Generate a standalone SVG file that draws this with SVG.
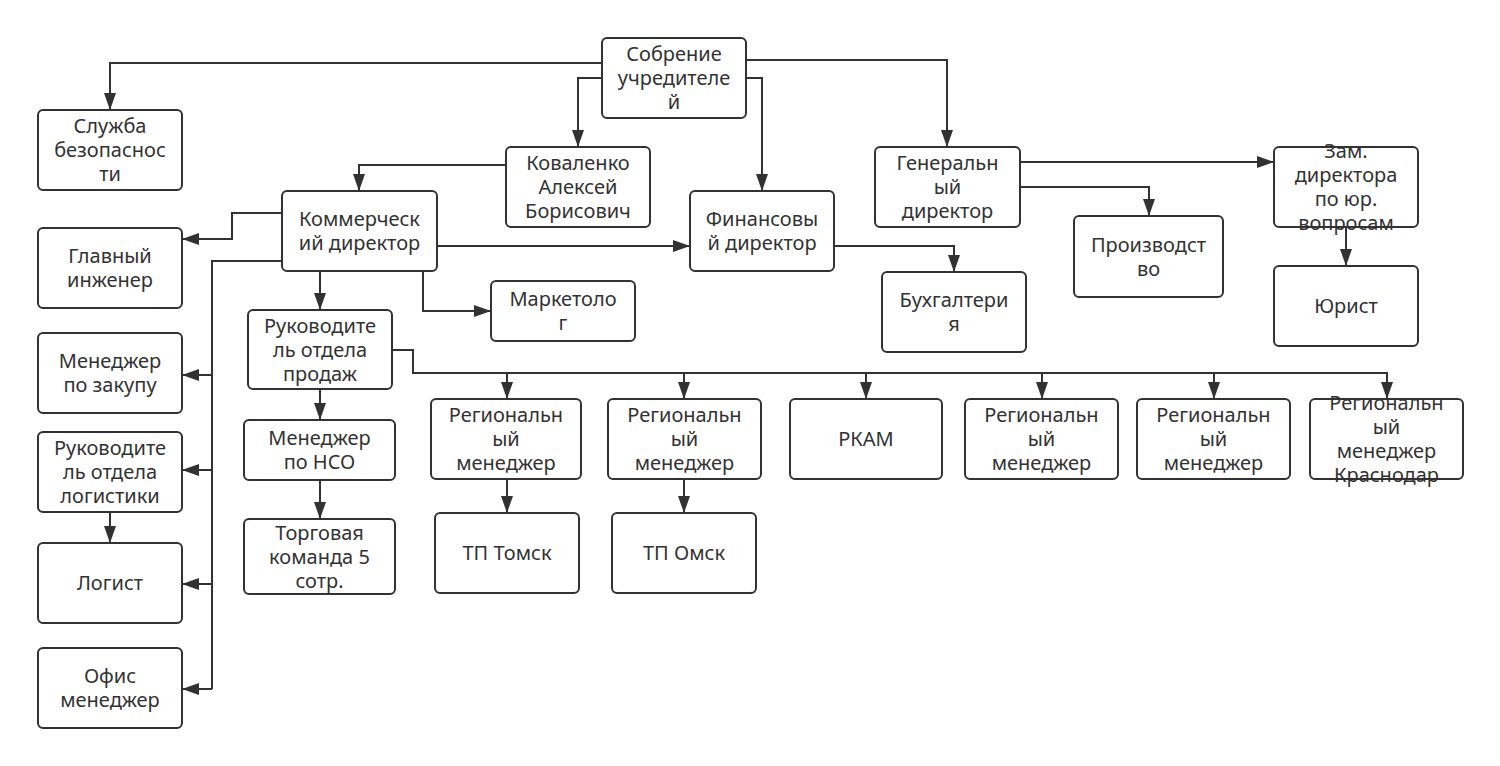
<svg xmlns="http://www.w3.org/2000/svg" width="1500" height="766" viewBox="0 0 1500 766">
<defs>
<marker id="arr" markerUnits="userSpaceOnUse" markerWidth="17" markerHeight="12" refX="17" refY="6" orient="auto">
<path d="M0,0 L17,6 L0,12 z" fill="#323232"/>
</marker>
<style>
.n rect{fill:#fff;stroke:#323232;stroke-width:2}
.n text{font-family:"Noto Sans","Open Sans",sans-serif;font-size:20px;fill:#323232;text-anchor:middle}
#connectors path{fill:none;stroke:#323232;stroke-width:2}
#connectors path.a{marker-end:url(#arr)}
</style>
</defs>
<rect width="1500" height="766" fill="#fff"/>
<g id="connectors">
<path class="a" d="M602,63 H110 V110"/>
<path class="a" d="M602,78 H578 V147"/>
<path class="a" d="M746,78 H762 V191"/>
<path class="a" d="M746,60 H947 V147"/>
<path class="a" d="M506,165 H359 V191"/>
<path class="a" d="M437,246 H690"/>
<path class="a" d="M834,246 H954 V272"/>
<path class="a" d="M282,213 H232 V239 H182"/>
<path d="M282,261 H212 V689"/>
<path class="a" d="M212,375 H182"/>
<path class="a" d="M212,470 H182"/>
<path class="a" d="M212,584 H182"/>
<path class="a" d="M212,689 H182"/>
<path class="a" d="M320,271 V310"/>
<path class="a" d="M423,271 V311 H491"/>
<path class="a" d="M392,350 H413 V373 H1387 V399"/>
<path class="a" d="M507,373 V399"/>
<path class="a" d="M684,373 V399"/>
<path class="a" d="M866,373 V399"/>
<path class="a" d="M1042,373 V399"/>
<path class="a" d="M1214,373 V399"/>
<path class="a" d="M320,389 V420"/>
<path class="a" d="M320,480 V519"/>
<path class="a" d="M110,512 V543"/>
<path class="a" d="M507,479 V513"/>
<path class="a" d="M684,479 V513"/>
<path class="a" d="M1020,162 H1274"/>
<path class="a" d="M1020,187 H1149 V216"/>
<path class="a" d="M1346,227 V266"/>
</g>
<g id="n-sobranie" class="n"><rect x="602" y="38" width="144" height="80" rx="5"/><text x="674" y="61">Собрение</text><text x="674" y="85">учредителе</text><text x="674" y="109">й</text></g>
<g id="n-security" class="n"><rect x="38" y="110" width="144" height="80" rx="5"/><text x="110" y="133">Служба</text><text x="110" y="157">безопаснос</text><text x="110" y="181">ти</text></g>
<g id="n-kovalenko" class="n"><rect x="506" y="147" width="144" height="80" rx="5"/><text x="578" y="170">Коваленко</text><text x="578" y="194">Алексей</text><text x="578" y="218">Борисович</text></g>
<g id="n-commercial" class="n"><rect x="282" y="191" width="155" height="80" rx="5"/><text x="359.5" y="226">Коммерческ</text><text x="359.5" y="250">ий директор</text></g>
<g id="n-finance" class="n"><rect x="690" y="191" width="144" height="80" rx="5"/><text x="762" y="226">Финансовы</text><text x="762" y="250">й директор</text></g>
<g id="n-general" class="n"><rect x="875" y="147" width="145" height="80" rx="5"/><text x="947.5" y="170">Генеральн</text><text x="947.5" y="194">ый</text><text x="947.5" y="218">директор</text></g>
<g id="n-deputy" class="n"><rect x="1274" y="147" width="144" height="80" rx="5"/><text x="1346" y="158">Зам.</text><text x="1346" y="182">директора</text><text x="1346" y="206">по юр.</text><text x="1346" y="230">вопросам</text></g>
<g id="n-production" class="n"><rect x="1074" y="216" width="149" height="81" rx="5"/><text x="1148.5" y="251.5">Производст</text><text x="1148.5" y="275.5">во</text></g>
<g id="n-accounting" class="n"><rect x="882" y="272" width="144" height="80" rx="5"/><text x="954" y="307">Бухгалтери</text><text x="954" y="331">я</text></g>
<g id="n-lawyer" class="n"><rect x="1274" y="266" width="144" height="80" rx="5"/><text x="1346" y="313">Юрист</text></g>
<g id="n-engineer" class="n"><rect x="38" y="228" width="144" height="80" rx="5"/><text x="110" y="263">Главный</text><text x="110" y="287">инженер</text></g>
<g id="n-marketer" class="n"><rect x="491" y="281" width="144" height="60" rx="5"/><text x="563" y="306">Маркетоло</text><text x="563" y="330">г</text></g>
<g id="n-sales-head" class="n"><rect x="248" y="310" width="144" height="79" rx="5"/><text x="320" y="332.5">Руководите</text><text x="320" y="356.5">ль отдела</text><text x="320" y="380.5">продаж</text></g>
<g id="n-purchase" class="n"><rect x="38" y="333" width="144" height="80" rx="5"/><text x="110" y="368">Менеджер</text><text x="110" y="392">по закупу</text></g>
<g id="n-logistics-head" class="n"><rect x="38" y="432" width="144" height="80" rx="5"/><text x="110" y="455">Руководите</text><text x="110" y="479">ль отдела</text><text x="110" y="503">логистики</text></g>
<g id="n-logist" class="n"><rect x="38" y="543" width="144" height="80" rx="5"/><text x="110" y="590">Логист</text></g>
<g id="n-office" class="n"><rect x="38" y="648" width="144" height="80" rx="5"/><text x="110" y="683">Офис</text><text x="110" y="707">менеджер</text></g>
<g id="n-nso" class="n"><rect x="244" y="420" width="151" height="60" rx="5"/><text x="319.5" y="445">Менеджер</text><text x="319.5" y="469">по НСО</text></g>
<g id="n-team" class="n"><rect x="244" y="519" width="151" height="75" rx="5"/><text x="319.5" y="539.5">Торговая</text><text x="319.5" y="563.5">команда 5</text><text x="319.5" y="587.5">сотр.</text></g>
<g id="n-reg1" class="n"><rect x="431" y="399" width="150" height="80" rx="5"/><text x="506" y="422">Региональн</text><text x="506" y="446">ый</text><text x="506" y="470">менеджер</text></g>
<g id="n-reg2" class="n"><rect x="608" y="399" width="153" height="80" rx="5"/><text x="684.5" y="422">Региональн</text><text x="684.5" y="446">ый</text><text x="684.5" y="470">менеджер</text></g>
<g id="n-rkam" class="n"><rect x="790" y="399" width="152" height="80" rx="5"/><text x="866" y="446">РКАМ</text></g>
<g id="n-reg3" class="n"><rect x="965" y="399" width="153" height="80" rx="5"/><text x="1041.5" y="422">Региональн</text><text x="1041.5" y="446">ый</text><text x="1041.5" y="470">менеджер</text></g>
<g id="n-reg4" class="n"><rect x="1137" y="399" width="153" height="80" rx="5"/><text x="1213.5" y="422">Региональн</text><text x="1213.5" y="446">ый</text><text x="1213.5" y="470">менеджер</text></g>
<g id="n-krasnodar" class="n"><rect x="1310" y="399" width="153" height="80" rx="5"/><text x="1386.5" y="410">Региональн</text><text x="1386.5" y="434">ый</text><text x="1386.5" y="458">менеджер</text><text x="1386.5" y="482">Краснодар</text></g>
<g id="n-tomsk" class="n"><rect x="435" y="513" width="144" height="80" rx="5"/><text x="507" y="560">ТП Томск</text></g>
<g id="n-omsk" class="n"><rect x="612" y="513" width="144" height="80" rx="5"/><text x="684" y="560">ТП Омск</text></g>
</svg>
